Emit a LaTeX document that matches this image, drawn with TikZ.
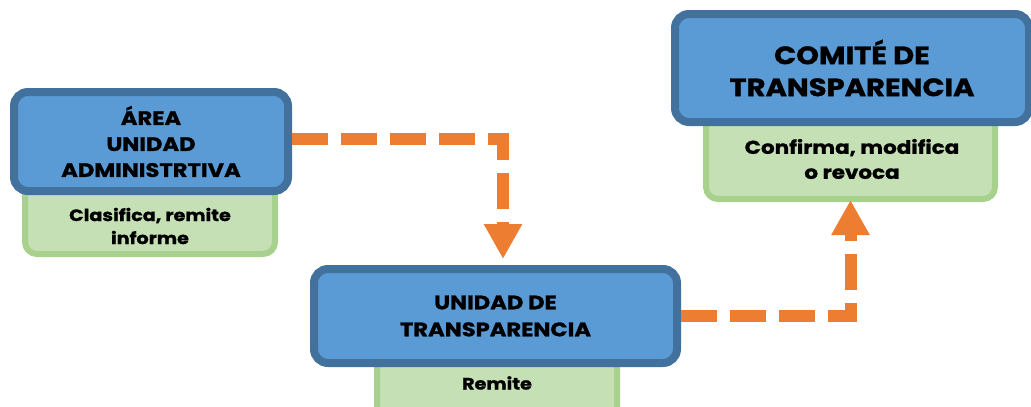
\documentclass[tikz,border=0pt]{standalone}
\usepackage{fontspec}
\setmainfont{Poppins}[FakeStretch=1.16, BoldFeatures={FakeBold=1.2}]
\usetikzlibrary{arrows.meta}
\definecolor{bluefill}{HTML}{5B9BD5}
\definecolor{blueline}{HTML}{41719C}
\definecolor{greenfill}{HTML}{C5E0B4}
\definecolor{greenline}{HTML}{A9D18E}
\definecolor{arroworange}{HTML}{ED7D31}
\tikzset{
  bluebox/.style={draw=blueline, fill=bluefill, line width=8pt, rounded corners=14pt, align=center, font=\bfseries, inner sep=0pt},
  greenbox/.style={draw=greenline, fill=greenfill, line width=6pt, rounded corners=12pt, inner sep=0pt},
  greentext/.style={align=center, font=\bfseries, inner sep=0pt},
  flowarrow/.style={draw=arroworange, line width=12pt, dash pattern=on 36pt off 13pt, line join=miter, -{Triangle[width=36pt,length=35pt]}}
}
\begin{document}
\begin{tikzpicture}[x=1pt,y=-1pt]
\useasboundingbox (0,0) rectangle (1031,407);
\clip (0,0) rectangle (1031,407);
% green boxes
\node[greenbox, minimum width=250pt, minimum height=81pt] (ag) at (150,213.5) {};
\node[greenbox, minimum width=240pt, minimum height=80pt] (bg) at (497,380) {};
\node[greenbox, minimum width=289pt, minimum height=99pt] (cg) at (850.5,149.5) {};
% green texts
\node[greentext, font=\bfseries\fontsize{16.5}{23}\selectfont] (agt) at (150,226) {Clasifica, remite\\informe};
\node[greentext, font=\bfseries\fontsize{16.5}{23}\selectfont] (bgt) at (497,383) {Remite};
\node[greentext, font=\bfseries\fontsize{18.5}{25}\selectfont] (cgt) at (852,159) {Confirma, modifica\\o revoca};
% blue boxes
\node[bluebox, minimum width=274pt, minimum height=99pt, font=\bfseries\fontsize{19.5}{26}\selectfont] (a) at (151,141.5) {ÁREA\\UNIDAD\\ADMINISTRTIVA};
\node[bluebox, minimum width=363pt, minimum height=94pt, font=\bfseries\fontsize{19.5}{27}\selectfont] (b) at (495.5,316) {UNIDAD DE\\TRANSPARENCIA};
\node[bluebox, minimum width=354pt, minimum height=108pt, font=\bfseries\fontsize{25}{32}\selectfont] (c) at (852,68) {COMITÉ DE\\TRANSPARENCIA};
% arrows
\draw[flowarrow, shorten >=6pt] ([yshift=2.5pt]a.east) -| ([xshift=7.5pt]b.north);
\draw[flowarrow, shorten >=-2pt] (b.east) -| (cg.south);
\end{tikzpicture}
\end{document}
